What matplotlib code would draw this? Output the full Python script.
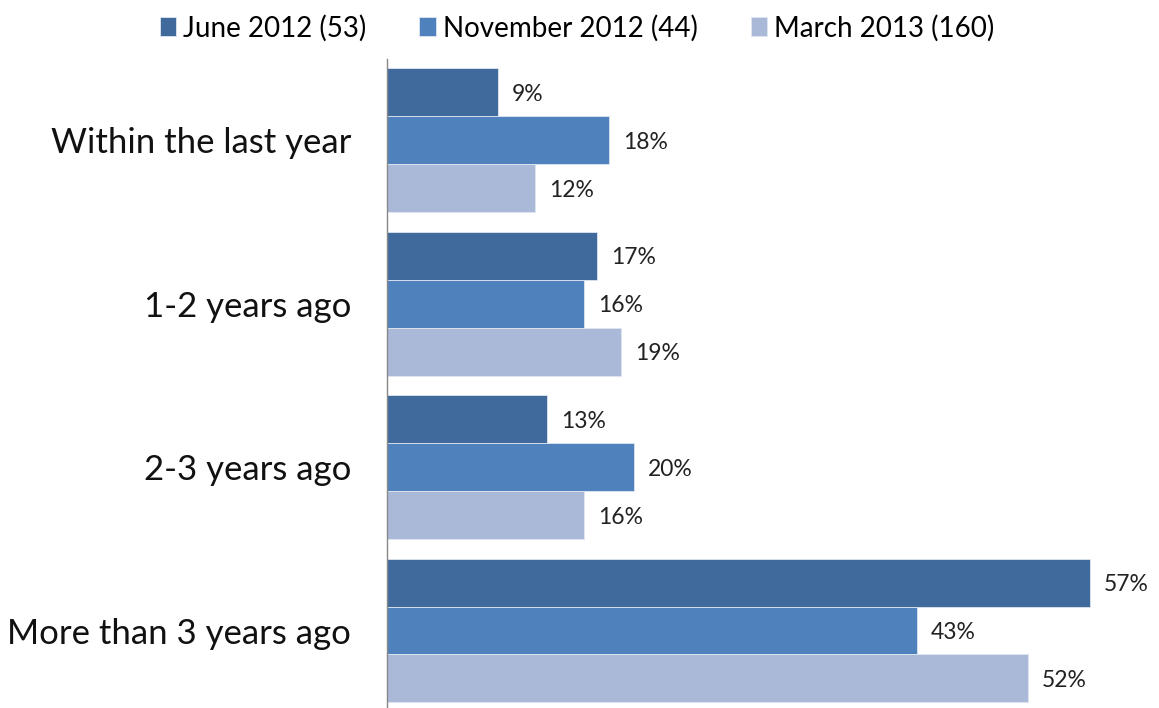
import matplotlib
matplotlib.use("Agg")
import matplotlib.pyplot as plt
import numpy as np

categories = ["Within the last year", "1-2 years ago", "2-3 years ago", "More than 3 years ago"]
series_names = ["June 2012 (53)", "November 2012 (44)", "March 2013 (160)"]
june_2012 = [9, 17, 13, 57]
nov_2012 = [18, 16, 20, 43]
mar_2013 = [12, 19, 16, 52]
colors = ["#406A9B", "#4F81BD", "#AAB9D7"]

plt.rcParams['font.family'] = ['Lato', 'DejaVu Sans']

fig = plt.figure(figsize=(11.59, 7.08), dpi=100)
ax = fig.add_axes([387/1159, 1 - 712.2/708, 1 - 387/1159, (712.2 - 58.7)/708])

y = np.arange(len(categories))
h = 0.2936
series = [june_2012, nov_2012, mar_2013]
for i, (vals, name, c) in enumerate(zip(series, series_names, colors)):
    pos = y + (i - 1) * h
    ax.barh(pos, vals, height=h, color=c, edgecolor="#dfe6f0", linewidth=0.6, label=name)
    for p, v in zip(pos, vals):
        ax.annotate(f"{v}%", xy=(v, p), xytext=(14, -2), textcoords="offset pixels",
                    va="center", ha="left", fontsize=16.5, color="#222222")

ax.set_ylim(3.5, -0.5)
ax.set_xlim(0, (1159 - 387) / 12.33)
ax.set_yticks(y)
ax.set_yticklabels(categories, fontsize=25, color="#111111")
ax.tick_params(axis="y", length=0, pad=26)
ax.set_xticks([])
for s in ["top", "right", "bottom"]:
    ax.spines[s].set_visible(False)
ax.spines["left"].set_color("#888888")
ax.spines["left"].set_linewidth(1)

fig.legend(loc="center", bbox_to_anchor=(0.498, 1 - 28/708), ncol=3, frameon=False,
           fontsize=20, handlelength=0.6, handleheight=0.7, handletextpad=0.25, columnspacing=1.9)

fig.savefig("out.png", dpi=100)
